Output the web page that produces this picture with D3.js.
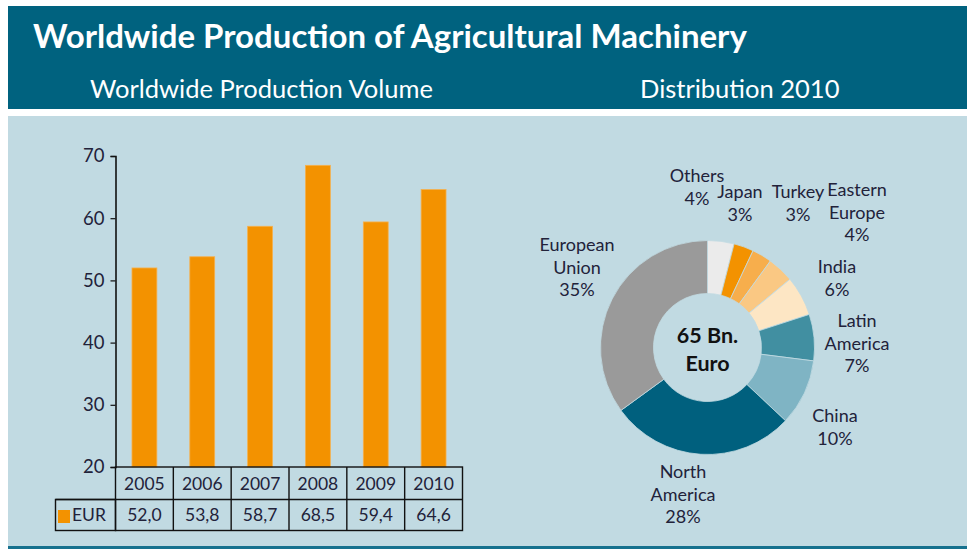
<!DOCTYPE html>
<html>
<head>
<meta charset="utf-8">
<script src="https://cdn.jsdelivr.net/npm/d3@7"></script>
<style>
  body { margin: 0; background: #fff; }
  svg { display: block; font-family: Lato, "Open Sans", sans-serif; }
</style>
</head>
<body>
<div id="chart"></div>
<script>
// data
const years = ["2005", "2006", "2007", "2008", "2009", "2010"];
const eur = [52.0, 53.8, 58.7, 68.5, 59.4, 64.6];
const yTicks = [20, 30, 40, 50, 60, 70];

const regions = ["Others", "Japan", "Turkey", "Eastern Europe", "India", "Latin America", "China", "North America", "European Union"];
const shares = [4, 3, 3, 4, 6, 7, 10, 28, 35];
const sliceColors = ["#ebebeb", "#f39200", "#f7ae4c", "#fac883", "#fde6c4", "#418fa1", "#7fb4c4", "#00607e", "#9a9a9a"];

const W = 967, H = 549;
const ink = "#22223a";

const svg = d3.select("#chart").append("svg")
    .attr("width", W)
    .attr("height", H);

// header + panel
svg.append("rect").attr("x", 8).attr("y", 6).attr("width", W - 8).attr("height", 103).attr("fill", "#00627f");
svg.append("rect").attr("x", 8).attr("y", 116).attr("width", W - 8).attr("height", 431).attr("fill", "#c1dae2");
svg.append("rect").attr("x", 8).attr("y", 546).attr("width", W - 8).attr("height", 3).attr("fill", "#16718e");

svg.append("text")
    .attr("x", 33).attr("y", 48)
    .attr("fill", "#fff")
    .style("font-size", "33px").style("font-weight", "bold")
    .text("Worldwide Production of Agricultural Machinery");

svg.append("text")
    .attr("x", 90).attr("y", 98)
    .attr("fill", "#fff").style("font-size", "25.5px")
    .text("Worldwide Production Volume");

svg.append("text")
    .attr("x", 640).attr("y", 98)
    .attr("fill", "#fff").style("font-size", "25.5px")
    .text("Distribution 2010");

// bar chart
const x = d3.scaleBand()
    .domain(years)
    .range([115.5, 462.5])
    .paddingInner(0.57)
    .paddingOuter(0.285);

const y = d3.scaleLinear()
    .domain([20, 70])
    .range([467, 156]);

const barG = svg.append("g");

barG.selectAll("rect")
    .data(years)
    .join("rect")
    .attr("x", d => x(d))
    .attr("y", (d, i) => y(eur[i]))
    .attr("width", x.bandwidth())
    .attr("height", (d, i) => y(20) - y(eur[i]))
    .attr("fill", "#f39200")
    .attr("stroke", "#f6b04c")
    .attr("stroke-width", 0.8);

const yAxis = svg.append("g")
    .attr("transform", "translate(115.5,0)")
    .call(d3.axisLeft(y).tickValues(yTicks).tickSize(5).tickPadding(6));
yAxis.select(".domain").attr("stroke", "#111").attr("stroke-width", 1.6);
yAxis.selectAll(".tick line").attr("stroke", "#111").attr("stroke-width", 1.2);
yAxis.selectAll("text")
    .attr("fill", ink)
    .style("font-size", "18.5px")
    .style("font-family", "Lato, sans-serif");

// data table under the bars
const colStep = x.step();
const x0 = x.range()[0];
const row1 = [467, 499.5], row2 = [499.5, 530.5];
const table = svg.append("g").attr("fill", "none").attr("stroke", "#111").attr("stroke-width", 1.4);

table.append("rect").attr("x", x0).attr("y", row1[0]).attr("width", colStep * years.length).attr("height", row2[1] - row1[0]);
table.append("rect").attr("x", 55.5).attr("y", row2[0]).attr("width", x0 - 55.5).attr("height", row2[1] - row2[0]);
table.append("line").attr("x1", 55.5).attr("x2", x0 + colStep * years.length).attr("y1", row2[0]).attr("y2", row2[0]);
years.forEach((d, i) => {
    if (i > 0) {
        table.append("line")
            .attr("x1", x0 + colStep * i).attr("x2", x0 + colStep * i)
            .attr("y1", row1[0]).attr("y2", row2[1]);
    }
});

svg.append("g").selectAll("text")
    .data(years)
    .join("text")
    .attr("x", d => x(d) + x.bandwidth() / 2)
    .attr("y", 490)
    .attr("text-anchor", "middle")
    .attr("fill", ink).style("font-size", "17.5px")
    .text(d => d);

svg.append("g").selectAll("text")
    .data(eur)
    .join("text")
    .attr("x", (d, i) => x(years[i]) + x.bandwidth() / 2)
    .attr("y", 521)
    .attr("text-anchor", "middle")
    .attr("fill", ink).style("font-size", "17.5px")
    .text(d => d.toFixed(1).replace(".", ","));

svg.append("rect").attr("x", 58).attr("y", 510).attr("width", 12).attr("height", 13).attr("fill", "#f39200");
svg.append("text").attr("x", 72).attr("y", 521).attr("fill", ink).style("font-size", "17.5px").text("EUR");

// donut
const cx = 707.5, cy = 347.5;
const pie = d3.pie().sort(null).value(d => d)(shares);
const arc = d3.arc().innerRadius(54).outerRadius(107);

const donut = svg.append("g").attr("transform", `translate(${cx},${cy})`);
donut.selectAll("path")
    .data(pie)
    .join("path")
    .attr("d", arc)
    .attr("fill", (d, i) => sliceColors[i])
    .attr("stroke", "#c1dae2")
    .attr("stroke-width", 0.8);

donut.append("text").attr("y", -5).attr("text-anchor", "middle")
    .attr("fill", "#111").style("font-size", "21.5px").style("font-weight", "bold").text("65 Bn.");
donut.append("text").attr("y", 23).attr("text-anchor", "middle")
    .attr("fill", "#111").style("font-size", "21.5px").style("font-weight", "bold").text("Euro");

// slice labels
const labelLines = [
    ["Others"], ["Japan"], ["Turkey"], ["Eastern", "Europe"], ["India"],
    ["Latin", "America"], ["China"], ["North", "America"], ["European", "Union"]
];
const labelPos = [
    [697, 182], [740, 198], [798, 198], [857, 196], [837, 273],
    [857, 327], [835, 422], [683, 478], [577, 251]
];

const lab = svg.append("g").attr("fill", ink).style("font-size", "18px").attr("text-anchor", "middle");
regions.forEach((r, i) => {
    const t = lab.append("text").attr("x", labelPos[i][0]).attr("y", labelPos[i][1]);
    labelLines[i].concat([shares[i] + "%"]).forEach((line, k) => {
        t.append("tspan").attr("x", labelPos[i][0]).attr("dy", k === 0 ? 0 : 22.5).text(line);
    });
});
</script>
</body>
</html>
